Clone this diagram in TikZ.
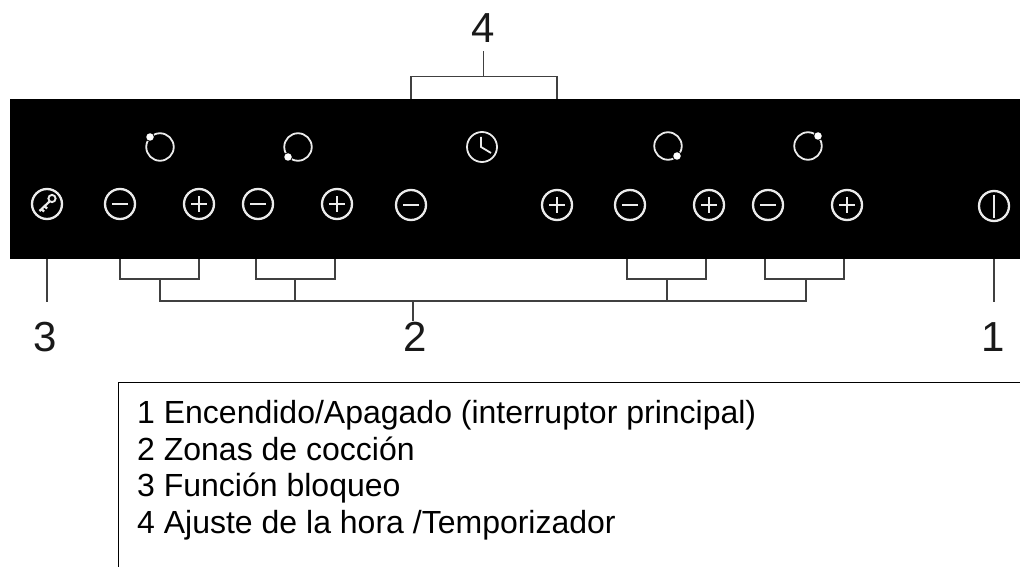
\documentclass[tikz,border=0pt]{standalone}
\usepackage{fontspec}
\setmainfont{Liberation Sans}
\begin{document}
\begin{tikzpicture}[x=1pt,y=-1pt,
  icon/.style={circle,draw=white!92!black,line width=2.3pt,minimum size=30pt,inner sep=0pt,outer sep=0pt},
  glyph/.style={draw=white!92!black,line width=2.4pt},
  ring/.style={circle,draw=white!92!black,line width=1.8pt,minimum size=27.5pt,inner sep=0pt},
  dotmark/.style={circle,fill=white,minimum size=7.5pt,inner sep=0pt},
  lead/.style={draw=black!75,line width=1.7pt},
  num/.style={font=\fontsize{42}{42}\selectfont,inner sep=0pt,text=black!90},
  legend/.style={font=\fontsize{32}{36}\selectfont,anchor=base west,inner sep=0pt,text=black}]
\useasboundingbox (0,0) rectangle (1020,567);
\node[fill=black,inner sep=0pt,minimum width=1010pt,minimum height=160pt,anchor=north west] (panel) at (10,99) {};
% key
\node[icon] (key) at (47,204) {};
\draw[glyph,line width=1.9pt] (52,198.5) circle (3.6pt);
\draw[glyph,line width=2.2pt] (49.5,201.5) -- (39.5,211) (41.5,209) -- (44,211.5) (44.5,206) -- (47,208.5);
% minus / plus
\foreach \n/\x/\y in {m1/120/204,m2/258/204,m3/411/205,m4/630/205,m5/768/205}{
  \node[icon] (\n) at (\x,\y) {};
  \draw[glyph] (\x-8,\y) -- (\x+8,\y);
}
\foreach \n/\x/\y in {p1/199/204,p2/337/204,p3/557/205,p4/709/205,p5/847/205}{
  \node[icon] (\n) at (\x,\y) {};
  \draw[glyph] (\x-8,\y) -- (\x+8,\y) (\x,\y-8) -- (\x,\y+8);
}
% power
\node[icon] (pow) at (994,206) {};
\draw[glyph] (994,194.5) -- (994,217.5);
% rings
\foreach \n/\x/\y/\a/\b in {r1/160/147/-10/-10,r2/298/147/-10/10,r3/668/146/9/10,r4/808/146/10/-10}{
  \node[ring] (\n) at (\x,\y) {};
  \node[fill=black,circle,minimum size=9.5pt,inner sep=0pt] at (\x+\a,\y+\b) {};
  \node[dotmark] (\n d) at (\x+\a,\y+\b) {};
}
% clock
\node[icon,line width=1.8pt,minimum size=30pt] (clk) at (482,147) {};
\draw[glyph,line width=1.8pt] (481,137) -- (481,147) -- (491,153);
% legend box
\draw[line width=1.7pt,draw=black] (118.5,567) -- (118.5,382.5) -- (1020,382.5);
\node[legend] (l1) at (137,423.5) {1 Encendido/Apagado (interruptor principal)};
\node[legend] (l2) at (137,460) {2 Zonas de cocción};
\node[legend] (l3) at (137,496.5) {3 Función bloqueo};
\node[legend] (l4) at (137,533) {4 Ajuste de la hora /Temporizador};
% numbers
\node[num] (n4) at (483,28) {4};
\node[num] (n3) at (45,337) {3};
\node[num] (n2) at (415,337) {2};
\node[num] (n1) at (993.5,337) {1};
% brackets
\coordinate (t1) at (411,99); \coordinate (t2) at (557,99);
\coordinate (tb1) at (411,76.5); \coordinate (tb2) at (557,76.5);
\coordinate (tm) at (483.5,76.5); \coordinate (ts) at (483.5,51);
\draw[lead] (t1) -- (tb1) -- (tb2) -- (t2) (tm) -- (ts);
\foreach \a/\b/\c in {120/199/160,256/335/295,627/706/667,765/844/806}{
  \draw[lead] (\a,259) -- (\a,279) -- (\b,279) -- (\b,259) (\c,279) -- (\c,301);
}
\coordinate (bl) at (160,301); \coordinate (br) at (806,301);
\coordinate (bm) at (413,301); \coordinate (bs) at (413,321);
\draw[lead,line cap=rect] (bl) -- (br);
\draw[lead] (bm) -- (bs);
\coordinate (k0) at (47,259); \coordinate (k1) at (47,301.5);
\coordinate (o0) at (994,259); \coordinate (o1) at (994,301.5);
\draw[lead] (k0) -- (k1) (o0) -- (o1);
\end{tikzpicture}
\end{document}
